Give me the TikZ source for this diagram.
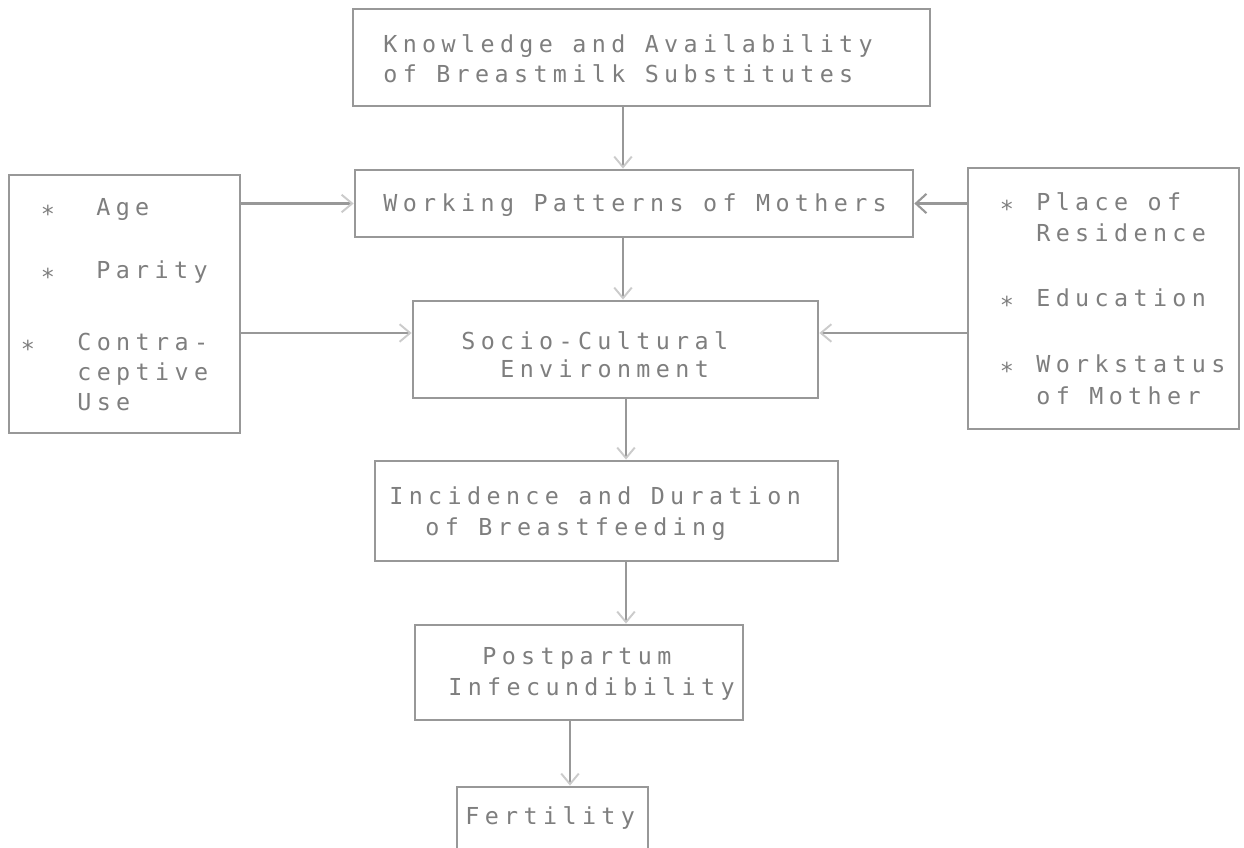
\documentclass[tikz,border=0pt]{standalone}
\usepackage{fontspec}
\setmonofont[LetterSpace=23]{DejaVu Sans Mono}
\usetikzlibrary{arrows.meta}
\definecolor{ink}{RGB}{152,152,152}
\definecolor{inktext}{RGB}{126,126,126}
\tikzset{
    box/.style={draw=ink, line width=1.6pt, inner sep=0pt},
    flow/.style={draw=ink, line width=1.6pt, -{Straight Barb[length=6pt,width=10pt,line width=1.1pt,color=ink!50]}},
    flowdark/.style={flow, -{Straight Barb[length=6pt,width=11pt,line width=1.2pt,color=ink]}},
    item/.style={anchor=base west, inner sep=0pt, text=inktext},
    bullet/.style={anchor=base, inner sep=0pt, text=inktext},
}
\newcommand{\itemstar}{\raisebox{-0.3em}{*}}
\begin{document}
\begin{tikzpicture}[x=0.02cm, y=-0.02cm, font=\fontsize{13.3}{17.4}\selectfont\ttfamily]
        \useasboundingbox (0,0) rectangle (1244,848);

        \node[box, minimum width=11.54cm, minimum height=1.94cm] (know) at (641.5,57.5) {};
        \node[item] (knowA) at (383,53) {Knowledge and Availability};
        \node[item] (knowB) at (383,83) {of Breastmilk Substitutes};

        \node[box, minimum width=11.16cm, minimum height=1.34cm] (work) at (634,203.5) {};
        \node[item] (workA) at (383,211) {Working Patterns of Mothers};

        \node[box, minimum width=8.1cm, minimum height=1.94cm] (socio) at (615.5,349.5) {};
        \node[item] (socioA) at (461,349) {Socio-Cultural};
        \node[item] (socioB) at (500,377) {Environment};

        \node[box, minimum width=9.26cm, minimum height=2cm] (inc) at (606.5,511) {};
        \node[item] (incA) at (389,504) {Incidence and Duration};
        \node[item] (incB) at (425,535) {of Breastfeeding};

        \node[box, minimum width=6.56cm, minimum height=1.9cm] (post) at (579,672.5) {};
        \node[item] (postA) at (482,664) {Postpartum};
        \node[item] (postB) at (448,695) {Infecundibility};

        \node[box, minimum width=3.82cm, minimum height=1.4cm] (fert) at (552.5,822) {};
        \node[item] (fertA) at (465,824) {Fertility};

        \node[box, minimum width=4.62cm, minimum height=5.16cm] (lft) at (124.5,304) {};
        \node[bullet] (lftS1) at (48,215) {\itemstar};
        \node[bullet] (lftS2) at (48,278) {\itemstar};
        \node[bullet] (lftS3) at (28,350) {\itemstar};
        \node[item] (ageT) at (96,215) {Age};
        \node[item] (parT) at (96,278) {Parity};
        \node[item] (conT) at (77,350) {Contra-};
        \node[item] (cepT) at (77,380) {ceptive};
        \node[item] (useT) at (77,410) {Use};

        \node[box, minimum width=5.42cm, minimum height=5.22cm] (rgt) at (1103.5,298.5) {};
        \node[bullet] (rgtS1) at (1007,210) {\itemstar};
        \node[bullet] (rgtS2) at (1007,306) {\itemstar};
        \node[bullet] (rgtS3) at (1007,372) {\itemstar};
        \node[item] (resA) at (1036,210) {Place of};
        \node[item] (resB) at (1036,241) {Residence};
        \node[item] (eduT) at (1036,306) {Education};
        \node[item] (wsA) at (1036,372) {Workstatus};
        \node[item] (wsB) at (1036,404) {of Mother};

        \coordinate (spineA) at (623,0);
        \coordinate (spineB) at (626,0);
        \coordinate (spineC) at (570,0);
        \coordinate (sideS) at (0,333);
        \draw[flow] (spineA |- know.south) -- (spineA |- work.north);
        \draw[flow] (spineA |- work.south) -- (spineA |- socio.north);
        \draw[flow] (spineB |- socio.south) -- (spineB |- inc.north);
        \draw[flow] (spineB |- inc.south) -- (spineB |- post.north);
        \draw[flow] (spineC |- post.south) -- (spineC |- fert.north);

        \draw[flow] (lft.east |- work.west) -- (work.west);
        \draw[flow] (lft.east |- sideS) -- (socio.west |- sideS);
        \draw[flowdark] (rgt.west |- work.east) -- (work.east);
        \draw[flow] (rgt.west |- sideS) -- (socio.east |- sideS);
    \end{tikzpicture}
\end{document}
